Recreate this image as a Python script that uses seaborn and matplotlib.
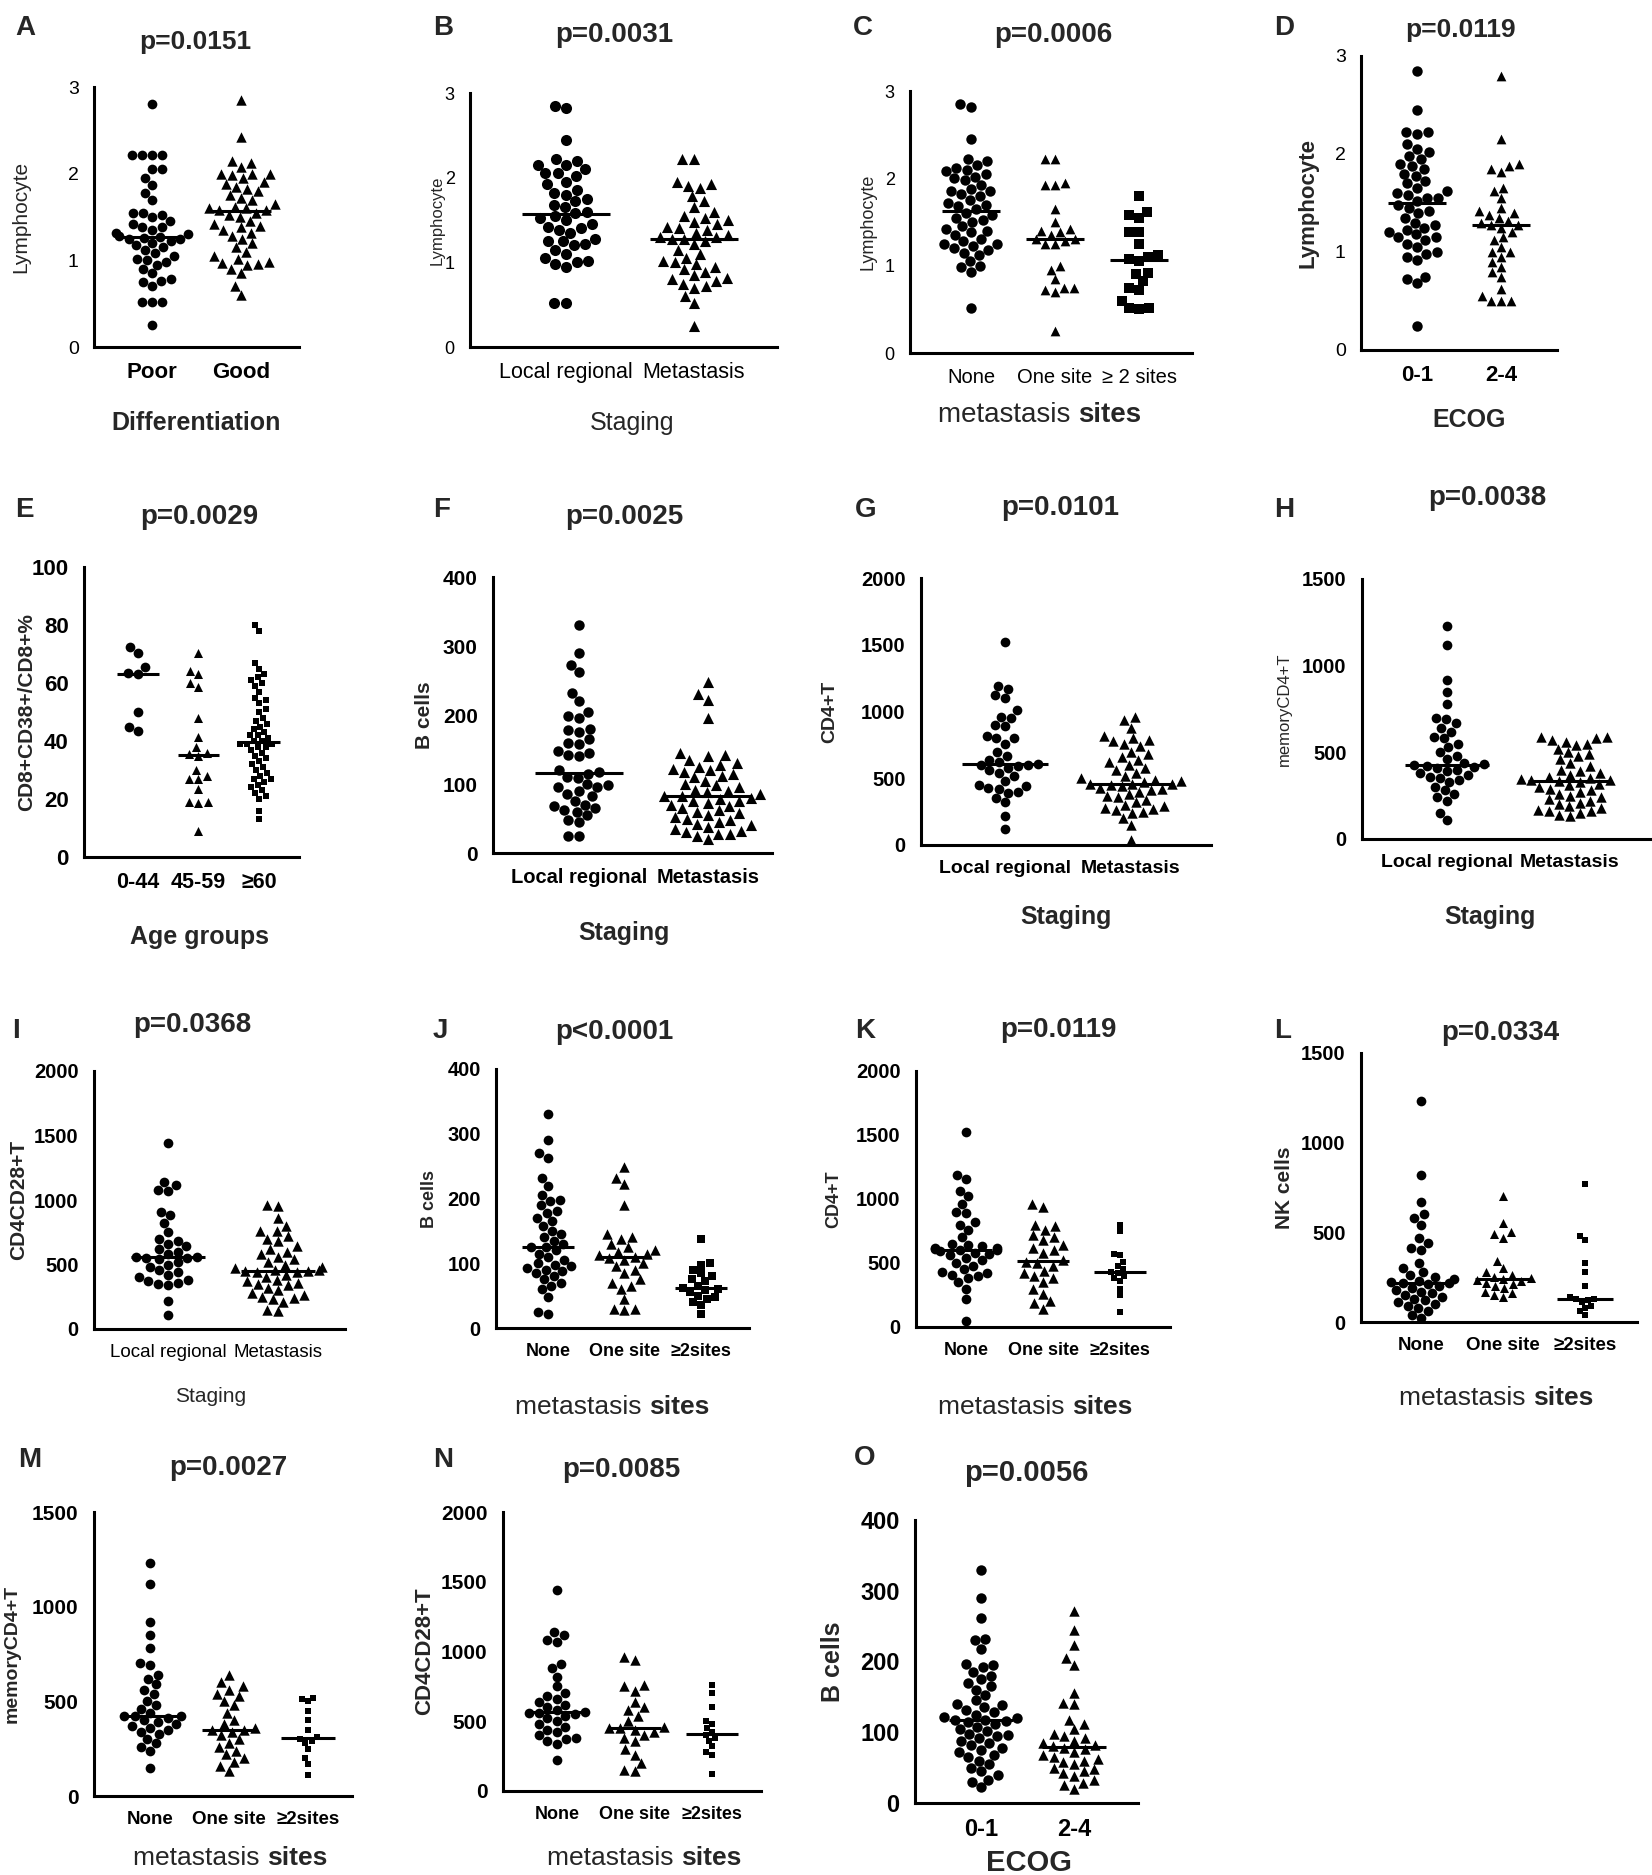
import warnings
import numpy as np
import pandas as pd
import matplotlib
matplotlib.use("Agg")
import matplotlib.pyplot as plt
import seaborn as sns

warnings.filterwarnings("ignore")
sns.set_style("white")
plt.rcParams['font.family'] = ['Liberation Sans', 'DejaVu Sans']

W, H = 1652, 1875
WIDE = ['Liberation Sans', 'DejaVu Sans']
NARROW = WIDE

# ---------------- data ----------------
two_diff = ["Poor", "Good"]
two_stage = ["Local regional", "Metastasis"]
three_sites_c = ["None", "One site", "\u2265 2 sites"]
three_sites = ["None", "One site", "\u22652sites"]
two_ecog = ["0-1", "2-4"]
three_age = ["0-44", "45-59", "\u226560"]

a_poor = [2.8, 2.22, 2.22, 2.22, 2.22, 2.05, 2.05, 1.95, 1.87, 1.78, 1.7, 1.55, 1.55, 1.52, 1.5, 1.45,
          1.42, 1.38, 1.38, 1.35, 1.32, 1.3, 1.28, 1.27, 1.26, 1.25, 1.25, 1.22, 1.2, 1.18, 1.15, 1.12,
          1.08, 1.05, 1.02, 1.0, 0.98, 0.95, 0.9, 0.85, 0.78, 0.76, 0.75, 0.7, 0.52, 0.52, 0.52, 0.25]
a_good = [2.85, 2.42, 2.15, 2.12, 2.08, 2.0, 2.0, 2.0, 1.98, 1.95, 1.9, 1.88, 1.85, 1.82, 1.8, 1.75,
          1.72, 1.7, 1.65, 1.62, 1.6, 1.6, 1.58, 1.58, 1.55, 1.52, 1.5, 1.45, 1.42, 1.4, 1.38, 1.35,
          1.32, 1.28, 1.25, 1.2, 1.15, 1.1, 1.05, 1.02, 0.98, 0.97, 0.96, 0.95, 0.9, 0.85, 0.7, 0.6]

b_local = [2.85, 2.82, 2.45, 2.22, 2.2, 2.15, 2.15, 2.1, 2.05, 2.05, 2.02, 1.95, 1.92, 1.85, 1.82, 1.8,
           1.75, 1.72, 1.68, 1.65, 1.6, 1.58, 1.55, 1.52, 1.5, 1.45, 1.42, 1.4, 1.38, 1.35, 1.28, 1.25,
           1.25, 1.22, 1.2, 1.15, 1.1, 1.05, 1.02, 1.0, 0.98, 0.95, 0.52, 0.52]
b_meta = [2.22, 2.22, 1.95, 1.92, 1.9, 1.88, 1.78, 1.72, 1.65, 1.6, 1.55, 1.52, 1.5, 1.48, 1.45, 1.42,
          1.4, 1.38, 1.35, 1.32, 1.3, 1.3, 1.28, 1.28, 1.25, 1.22, 1.15, 1.1, 1.05, 1.02, 1.0, 0.98,
          0.95, 0.92, 0.88, 0.85, 0.82, 0.8, 0.78, 0.75, 0.72, 0.7, 0.6, 0.52, 0.25]

c_none = [2.85, 2.82, 2.45, 2.22, 2.2, 2.15, 2.12, 2.1, 2.08, 2.05, 2.02, 2.0, 1.98, 1.92, 1.88, 1.85,
          1.85, 1.82, 1.8, 1.75, 1.72, 1.7, 1.68, 1.65, 1.6, 1.58, 1.55, 1.52, 1.5, 1.45, 1.42, 1.4,
          1.38, 1.35, 1.3, 1.28, 1.25, 1.25, 1.22, 1.2, 1.18, 1.15, 1.12, 1.05, 1.0, 0.98, 0.93, 0.52]
c_one = [2.22, 2.22, 1.95, 1.92, 1.92, 1.65, 1.5, 1.42, 1.4, 1.38, 1.35, 1.3, 1.3, 1.28, 1.25, 1.25,
         1.0, 0.95, 0.85, 0.75, 0.75, 0.72, 0.7, 0.25]
c_two = [1.8, 1.62, 1.58, 1.55, 1.38, 1.38, 1.25, 1.12, 1.1, 1.08, 1.05, 0.92, 0.9, 0.82, 0.75, 0.72,
         0.6, 0.52, 0.52, 0.5]

d_low = [2.85, 2.45, 2.22, 2.22, 2.2, 2.1, 2.05, 2.02, 1.98, 1.95, 1.9, 1.88, 1.85, 1.8, 1.78, 1.72,
         1.7, 1.65, 1.62, 1.6, 1.58, 1.55, 1.55, 1.52, 1.48, 1.45, 1.42, 1.4, 1.35, 1.3, 1.28, 1.25,
         1.22, 1.2, 1.18, 1.15, 1.15, 1.12, 1.08, 1.05, 1.0, 0.98, 0.95, 0.92, 0.75, 0.72, 0.68, 0.25]
d_high = [2.8, 2.15, 1.9, 1.88, 1.85, 1.82, 1.65, 1.62, 1.55, 1.45, 1.42, 1.4, 1.38, 1.35, 1.32, 1.3,
          1.28, 1.28, 1.25, 1.2, 1.15, 1.12, 1.05, 1.0, 1.0, 0.95, 0.9, 0.85, 0.8, 0.75, 0.62, 0.55,
          0.5, 0.5, 0.5]

e_young = [72.5, 70.5, 65.5, 63.5, 63, 50, 45, 43.5]
e_mid = [70.5, 64, 63, 60, 58.5, 48, 41.5, 38, 36, 35.5, 35, 30, 28, 27, 27, 23.5, 19, 19, 18.5, 9]
e_old = [80, 78, 67, 65, 63, 62, 61, 60, 59, 57, 55, 54, 53, 51, 50, 48, 47, 46, 45, 44, 43, 42, 42,
         41, 40, 40, 39, 39, 39, 38, 38, 37, 36, 35, 34, 33, 32, 31, 30, 29, 28, 27, 27, 26, 25, 24,
         23, 22, 21, 20, 16, 13]

f_local = [330, 290, 272, 262, 232, 220, 205, 198, 196, 180, 178, 175, 165, 160, 158, 148, 145, 142,
           140, 120, 118, 115, 110, 108, 100, 98, 95, 95, 90, 85, 82, 75, 70, 68, 65, 62, 60, 55, 48,
           45, 25, 25]
f_meta = [248, 230, 222, 195, 145, 142, 140, 135, 130, 128, 125, 122, 120, 118, 115, 112, 110, 105,
          100, 98, 95, 92, 90, 88, 85, 83, 82, 80, 78, 76, 75, 72, 70, 68, 65, 62, 60, 58, 55, 52, 50,
          48, 45, 42, 40, 38, 35, 32, 30, 28, 28, 25, 20]

g_local = [1520, 1190, 1170, 1120, 1100, 1010, 960, 950, 900, 890, 820, 800, 800, 760, 700, 670, 640,
           620, 610, 600, 600, 590, 580, 560, 540, 520, 480, 450, 440, 430, 420, 400, 390, 350, 320,
           220, 120]
g_meta = [960, 940, 880, 820, 800, 790, 780, 760, 740, 700, 680, 660, 640, 620, 600, 580, 560, 540,
          520, 500, 490, 480, 470, 460, 460, 455, 450, 440, 430, 420, 410, 400, 380, 370, 360, 340,
          320, 300, 290, 280, 270, 260, 250, 240, 200, 150, 40]

h_local = [1230, 1120, 920, 850, 780, 700, 690, 670, 640, 620, 590, 580, 550, 530, 500, 480, 460, 440,
           430, 425, 420, 415, 410, 400, 390, 380, 370, 360, 350, 340, 330, 300, 280, 260, 240, 220,
           150, 110]
h_meta = [590, 590, 580, 570, 560, 550, 540, 520, 500, 490, 480, 460, 440, 420, 400, 390, 380, 370,
          360, 350, 345, 340, 340, 335, 330, 320, 310, 300, 290, 280, 270, 260, 250, 240, 230, 220,
          210, 200, 190, 180, 170, 160, 160, 150, 140, 130]

i_local = [1440, 1140, 1120, 1080, 1070, 910, 880, 820, 750, 700, 680, 660, 640, 620, 600, 580, 560,
           555, 550, 550, 540, 520, 500, 480, 460, 440, 420, 400, 380, 370, 360, 350, 340, 220, 110]
i_meta = [960, 950, 860, 800, 760, 760, 720, 700, 680, 640, 620, 600, 580, 560, 540, 520, 500, 480,
          470, 460, 455, 450, 450, 445, 440, 420, 400, 380, 370, 360, 350, 340, 320, 300, 280, 260,
          250, 240, 230, 210, 150, 140]

j_none = [330, 290, 270, 262, 232, 220, 205, 198, 196, 190, 180, 178, 170, 165, 158, 150, 145, 140,
          135, 130, 125, 125, 120, 115, 110, 105, 100, 98, 95, 92, 90, 88, 85, 80, 75, 70, 65, 60, 48,
          25, 22]
j_one = [248, 232, 222, 190, 145, 140, 138, 130, 125, 120, 118, 115, 112, 110, 108, 105, 100, 95, 90,
         85, 75, 70, 65, 60, 45, 30, 30, 28]
j_two = [138, 100, 98, 90, 85, 80, 75, 72, 65, 62, 60, 58, 55, 50, 48, 45, 40, 35, 22]

k_none = [1520, 1190, 1160, 1060, 1020, 960, 900, 890, 820, 800, 760, 700, 650, 640, 630, 620, 620,
          610, 600, 600, 590, 580, 570, 560, 540, 520, 500, 480, 450, 430, 420, 410, 400, 380, 350,
          300, 220, 50]
k_one = [960, 940, 800, 790, 760, 720, 700, 680, 640, 620, 600, 580, 520, 510, 500, 480, 440, 420,
         400, 380, 350, 300, 260, 200, 190, 140]
k_two = [800, 750, 570, 560, 510, 480, 450, 430, 420, 400, 380, 360, 300, 250, 120]

l_none = [1230, 820, 670, 600, 580, 540, 470, 440, 410, 400, 330, 300, 280, 260, 250, 240, 230, 225,
          220, 215, 210, 200, 190, 180, 170, 160, 150, 140, 130, 120, 110, 100, 90, 80, 60, 40, 20]
l_one = [700, 550, 500, 490, 470, 340, 300, 280, 260, 250, 245, 240, 235, 230, 220, 210, 200, 190,
         170, 160, 150, 140]
l_two = [770, 480, 460, 330, 280, 200, 140, 130, 130, 120, 110, 90, 80, 60, 40]

m_none = [1230, 1120, 920, 850, 780, 700, 690, 640, 620, 590, 560, 540, 500, 480, 460, 440, 425, 420,
          420, 410, 400, 390, 380, 370, 360, 350, 340, 330, 300, 280, 260, 240, 150]
m_one = [640, 600, 580, 560, 540, 530, 500, 480, 440, 400, 380, 360, 350, 350, 340, 320, 300, 280,
         260, 240, 220, 200, 180, 160, 130]
m_two = [520, 510, 500, 450, 400, 350, 310, 300, 290, 280, 250, 200, 170, 110]

n_none = [1440, 1140, 1120, 1080, 1070, 910, 880, 820, 750, 700, 680, 660, 640, 620, 600, 580, 565,
          560, 560, 550, 540, 520, 500, 480, 460, 440, 420, 400, 380, 370, 360, 340, 220]
n_one = [960, 940, 760, 750, 720, 640, 600, 580, 540, 500, 460, 450, 450, 440, 420, 400, 380, 360,
         300, 260, 200, 150, 140]
n_two = [760, 700, 600, 500, 480, 450, 420, 400, 380, 360, 320, 280, 260, 120]

o_low = [330, 290, 262, 232, 230, 218, 196, 195, 192, 185, 180, 175, 170, 165, 160, 152, 145, 140, 138,
         135, 132, 128, 125, 122, 120, 118, 118, 116, 115, 112, 108, 105, 102, 98, 96, 95, 92, 88, 85,
         82, 78, 75, 72, 68, 65, 60, 55, 50, 45, 40, 33, 30, 22]
o_high = [272, 245, 223, 205, 195, 155, 142, 140, 118, 112, 105, 98, 95, 92, 88, 85, 82, 80, 78, 76,
          72, 68, 65, 62, 60, 58, 55, 50, 48, 45, 42, 38, 32, 28, 25, 20]

# ---------------- layout (pixel geometry) ----------------
# box = (left, right, top, bottom) of axes; cx = (first category x, spacing)
panels = [
    dict(L="A", title="p=0.0151", cats=two_diff, groups=[a_poor, a_good], mk=["o", "^"], sz=[7, 7.5],
         yt=[0, 1, 2, 3], ylab="Lymphocyte", xlab="Differentiation",
         box=(94, 299, 87, 347), cx=(152, 89), Lxy=(15, 15), Txy=(195, 42), Xxy=(196, 423), ylx=21,
         tfs=19, tickw="bold", tickfs=16, yfs=14, yw="normal",
         ylfs=15, ylw="normal", xlfs=18, xlw="bold"),
    dict(L="B", title="p=0.0031", cats=two_stage, groups=[b_local, b_meta], mk=["o", "^"], sz=[8, 8],
         yt=[0, 1, 2, 3], ylab="Lymphocyte", xlab="Staging",
         box=(470, 777, 93, 347), cx=(566, 128), Lxy=(433, 15), Txy=(614, 35), Xxy=(632, 423), ylx=437,
         tfs=20, tickw="normal", tickfs=15.5, yfs=13, yw="normal",
         ylfs=12, ylw="normal", xlfs=18, xlw="normal"),
    dict(L="C", title="p=0.0006", cats=three_sites_c, groups=[c_none, c_one, c_two], mk=["o", "^", "s"],
         sz=[7.5, 7, 7], yt=[0, 1, 2, 3], ylab="Lymphocyte", xlab="sites",
         box=(910, 1192, 91, 353), cx=(971, 84), Lxy=(853, 15), Txy=(1053, 35), Xxy=(1040, 415), ylx=868,
         tfs=20, tickw="normal", tickfs=14.5, yfs=13, yw="normal",
         ylfs=13, ylw="normal", xlfs=20, xlw="normal"),
    dict(L="D", title="p=0.0119", cats=two_ecog, groups=[d_low, d_high], mk=["o", "^"], sz=[7.5, 7],
         yt=[0, 1, 2, 3], ylab="Lymphocyte", xlab="ECOG",
         box=(1361, 1557, 56, 350), cx=(1417, 84), Lxy=(1274, 15), Txy=(1461, 30), Xxy=(1469, 420), ylx=1308,
         tfs=19, tickw="bold", tickfs=16, yfs=14, yw="normal",
         ylfs=16, ylw="bold", xlfs=18, xlw="bold"),
    dict(L="E", title="p=0.0029", cats=three_age, groups=[e_young, e_mid, e_old], mk=["o", "^", "s"],
         sz=[7, 6.5, 5], yt=[0, 20, 40, 60, 80, 100], ylab="CD8+CD38+/CD8+%", xlab="Age groups",
         box=(84, 299, 567, 857), cx=(138, 60.5), Lxy=(15, 497), Txy=(199, 517), Xxy=(199, 937), ylx=27,
         tfs=20, tickw="bold", tickfs=15.5, yfs=16, yw="bold",
         ylfs=15, ylw="bold", xlfs=18, xlw="bold"),
    dict(L="F", title="p=0.0025", cats=two_stage, groups=[f_local, f_meta], mk=["o", "^"], sz=[7.5, 8],
         yt=[0, 100, 200, 300, 400], ylab="B cells", xlab="Staging",
         box=(493, 772, 577, 853), cx=(579, 129), Lxy=(433, 497), Txy=(624, 517), Xxy=(624, 933), ylx=424,
         tfs=20, tickw="bold", tickfs=14.5, yfs=15, yw="bold",
         ylfs=15, ylw="bold", xlfs=18, xlw="bold"),
    dict(L="G", title="p=0.0101", cats=two_stage, groups=[g_local, g_meta], mk=["o", "^"], sz=[7, 7.5],
         yt=[0, 500, 1000, 1500, 2000], ylab="CD4+T", xlab="Staging",
         box=(921, 1211, 578, 845), cx=(1005, 126), Lxy=(855, 497), Txy=(1060, 508), Xxy=(1066, 917), ylx=830,
         tfs=20, tickw="bold", tickfs=14, yfs=14.5, yw="bold",
         ylfs=14, ylw="bold", xlfs=18, xlw="bold"),
    dict(L="H", title="p=0.0038", cats=two_stage, groups=[h_local, h_meta], mk=["o", "^"], sz=[7, 7.5],
         yt=[0, 500, 1000, 1500], ylab="memoryCD4+T", xlab="Staging",
         box=(1362, 1650, 579, 839), cx=(1447, 123), Lxy=(1274, 497), Txy=(1487, 498), Xxy=(1490, 917), ylx=1284,
         tfs=20, tickw="bold", tickfs=14, yfs=14.5, yw="bold",
         ylfs=12, ylw="normal", xlfs=18, xlw="bold"),
    dict(L="I", title="p=0.0368", cats=two_stage, groups=[i_local, i_meta], mk=["o", "^"], sz=[7, 7.5],
         yt=[0, 500, 1000, 1500, 2000], ylab="CD4CD28+T", xlab="Staging",
         box=(94, 345, 1071, 1329), cx=(168, 110), Lxy=(12, 1018), Txy=(192, 1025), Xxy=(211, 1397), ylx=19,
         tfs=20, tickw="normal", tickfs=13.5, yfs=14.5, yw="bold",
         ylfs=15, ylw="bold", xlfs=15, xlw="normal"),
    dict(L="J", title="p<0.0001", cats=three_sites, groups=[j_none, j_one, j_two], mk=["o", "^", "s"],
         sz=[7, 7.5, 6], yt=[0, 100, 200, 300, 400], ylab="B cells", xlab="sites",
         box=(496, 749, 1069, 1328), cx=(548, 76.5), Lxy=(433, 1018), Txy=(614, 1032), Xxy=(611, 1407), ylx=429,
         tfs=20, tickw="bold", tickfs=13, yfs=14.5, yw="bold",
         ylfs=13, ylw="bold", xlfs=19, xlw="normal"),
    dict(L="K", title="p=0.0119", cats=three_sites, groups=[k_none, k_one, k_two], mk=["o", "^", "s"],
         sz=[7, 7.5, 4.5], yt=[0, 500, 1000, 1500, 2000], ylab="CD4+T", xlab="sites",
         box=(916, 1170, 1071, 1327), cx=(966, 77), Lxy=(855, 1018), Txy=(1058, 1030), Xxy=(1034, 1407), ylx=834,
         tfs=20, tickw="bold", tickfs=13, yfs=14.5, yw="bold",
         ylfs=13, ylw="bold", xlfs=19, xlw="normal"),
    dict(L="L", title="p=0.0334", cats=three_sites, groups=[l_none, l_one, l_two], mk=["o", "^", "s"],
         sz=[7, 6.5, 4.5], yt=[0, 500, 1000, 1500], ylab="NK cells", xlab="sites",
         box=(1361, 1637, 1053, 1322), cx=(1421, 82), Lxy=(1274, 1018), Txy=(1500, 1033), Xxy=(1495, 1398), ylx=1284,
         tfs=20, tickw="bold", tickfs=13.5, yfs=14.5, yw="bold",
         ylfs=15, ylw="bold", xlfs=19, xlw="normal"),
    dict(L="M", title="p=0.0027", cats=three_sites, groups=[m_none, m_one, m_two], mk=["o", "^", "s"],
         sz=[7, 7.5, 4.5], yt=[0, 500, 1000, 1500], ylab="memoryCD4+T", xlab="sites",
         box=(94, 352, 1512, 1796), cx=(150, 79), Lxy=(18, 1447), Txy=(228, 1468), Xxy=(229, 1858), ylx=12,
         tfs=20, tickw="bold", tickfs=13.5, yfs=15, yw="bold",
         ylfs=14, ylw="bold", xlfs=19, xlw="normal"),
    dict(L="N", title="p=0.0085", cats=three_sites, groups=[n_none, n_one, n_two], mk=["o", "^", "s"],
         sz=[7, 7.5, 4.5], yt=[0, 500, 1000, 1500, 2000], ylab="CD4CD28+T", xlab="sites",
         box=(503, 761, 1512, 1791), cx=(557, 77.5), Lxy=(433, 1447), Txy=(621, 1470), Xxy=(643, 1858), ylx=425,
         tfs=20, tickw="bold", tickfs=13, yfs=15, yw="bold",
         ylfs=16, ylw="bold", xlfs=19, xlw="normal"),
    dict(L="O", title="p=0.0056", cats=two_ecog, groups=[o_low, o_high], mk=["o", "^"], sz=[7.5, 7.5],
         yt=[0, 100, 200, 300, 400], ylab="B cells", xlab="ECOG",
         box=(915, 1138, 1520, 1803), cx=(981, 93), Lxy=(854, 1445), Txy=(1026, 1473), Xxy=(1029, 1863), ylx=833,
         tfs=21, tickw="bold", tickfs=17, yfs=17, yw="bold",
         ylfs=18, ylw="bold", xlfs=21, xlw="bold"),
]

fig = plt.figure(figsize=(W / 100, H / 100), dpi=100)
fig.patch.set_facecolor("white")


def fx(px):
    return px / W


def fy(py):
    return 1 - py / H


for p in panels:
    l, r, t, b = p["box"]
    ax = fig.add_axes([fx(l), fy(b), (r - l) / W, (b - t) / H])
    cats = p["cats"]
    for i, (vals, m, s) in enumerate(zip(p["groups"], p["mk"], p["sz"])):
        df = pd.DataFrame({"grp": [cats[i]] * len(vals), "val": vals})
        sns.swarmplot(data=df, x="grp", y="val", order=cats, color="black", marker=m, size=s,
                      linewidth=0, ax=ax, clip_on=False, warn_thresh=1.0, zorder=3)
        med = float(np.median(vals))
        ax.hlines(med, i - 0.34, i + 0.34, color="black", lw=2.2, zorder=5, clip_on=False)
    c0, sp = p["cx"]
    ax.set_xlim((l - c0) / sp, (r - c0) / sp)
    yt = p["yt"]
    ax.set_ylim(0, yt[-1])
    ax.set_yticks(yt)
    ax.set_yticklabels([str(v) for v in yt])
    ax.set_xticks(range(len(cats)))
    ax.set_xticklabels(cats)
    ax.set_xlabel("")
    ax.set_ylabel("")
    for sname in ["top", "right"]:
        ax.spines[sname].set_visible(False)
    for sname in ["left", "bottom"]:
        ax.spines[sname].set_linewidth(2.2)
        ax.spines[sname].set_color("black")
    ax.tick_params(axis="both", direction="out", length=8, width=2, colors="black", pad=3)
    for lbl in ax.get_xticklabels():
        lbl.set_fontfamily(WIDE)
        lbl.set_fontweight(p["tickw"])
        lbl.set_fontsize(p["tickfs"])
    for lbl in ax.get_yticklabels():
        lbl.set_fontfamily(WIDE)
        lbl.set_fontweight(p["yw"])
        lbl.set_fontsize(p["yfs"])
    ax.set_facecolor("white")

    # panel letter
    fig.text(fx(p["Lxy"][0]), fy(p["Lxy"][1]), p["L"], fontsize=20, fontweight="bold",
             family=WIDE, ha="left", va="top")
    # title
    fig.text(fx(p["Txy"][0]), fy(p["Txy"][1]), p["title"], fontsize=p["tfs"], fontweight="bold",
             family=WIDE, ha="center", va="center")
    # y label
    fig.text(fx(p["ylx"]), fy((t + b) / 2), p["ylab"], rotation=90, fontsize=p["ylfs"],
             fontweight=p["ylw"], family=WIDE, ha="center", va="center")
    # x label
    xx, xy = p["Xxy"]
    if p["xlab"] == "sites":
        fig.text(fx(xx + 38), fy(xy), "metastasis ", fontsize=p["xlfs"], fontweight="normal",
                 family=WIDE, ha="right", va="center")
        fig.text(fx(xx + 38), fy(xy), "sites", fontsize=p["xlfs"], fontweight="bold",
                 family=WIDE, ha="left", va="center")
    else:
        fig.text(fx(xx), fy(xy), p["xlab"], fontsize=p["xlfs"], fontweight=p["xlw"],
                 family=WIDE, ha="center", va="center")

fig.savefig("out.png", dpi=100, facecolor="white")
